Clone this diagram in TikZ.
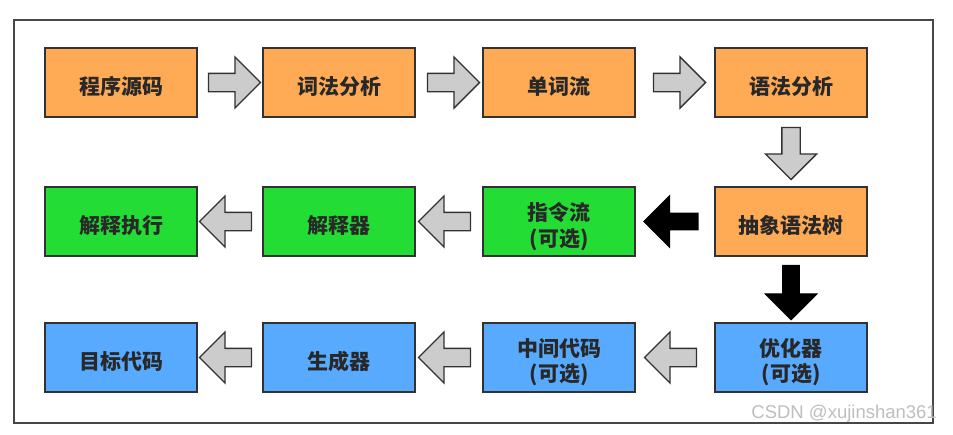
\documentclass[tikz,border=0pt]{standalone}
\usepackage{fontspec}
\newfontfamily\cjk{Noto Sans CJK SC}
\newfontfamily\wmfont{Liberation Sans}
\usetikzlibrary{shapes.arrows,calc}
\definecolor{orangebox}{RGB}{255,170,85}
\definecolor{greenbox}{RGB}{36,221,52}
\definecolor{bluebox}{RGB}{88,170,255}
\definecolor{boxline}{RGB}{50,50,50}
\definecolor{txt}{RGB}{40,40,40}
\definecolor{arrowfill}{RGB}{204,204,204}
\definecolor{framecol}{RGB}{70,70,70}
\definecolor{wmcol}{RGB}{190,190,190}
\newcommand\boxlabel[1]{\raisebox{-6.5pt}[\height][\depth]{\begin{tabular}{@{}c@{}}#1\end{tabular}}}
\begin{document}
\begin{tikzpicture}[x=1pt,y=-1pt,
  box/.style={draw=boxline,line width=1.5pt,minimum width=152pt,minimum height=69pt,
    inner sep=0pt,font=\cjk\bfseries\fontsize{21}{25}\selectfont,text=txt},
  obox/.style={box,fill=orangebox},
  gbox/.style={box,fill=greenbox},
  bbox/.style={box,fill=bluebox},
  flowarrow/.style={single arrow,draw=boxline,line width=1.3pt,fill=arrowfill,
    inner sep=8.5pt,single arrow head extend=16.5pt,minimum height=52pt},
  blackarrow/.style={flowarrow,fill=black,draw=black,inner sep=7.5pt,
    single arrow head extend=17.5pt,minimum height=54pt},
  toright/.style={shape border rotate=0},
  toleft/.style={shape border rotate=180},
  todown/.style={shape border rotate=270}]
\useasboundingbox (0,0) rectangle (953,434);
\fill[white] (0,0) rectangle (953,434);
\draw[framecol,line width=2pt] (14,20) rectangle (933,423);

% row 1
\node[obox] (src) at (121,82.5) {\boxlabel{程序源码}};
\node[obox] (lex) at (339,82.5) {\boxlabel{词法分析}};
\node[obox] (tok) at (559,82.5) {\boxlabel{单词流}};
\node[obox] (syn) at (791,82.5) {\boxlabel{语法分析}};
% row 2
\node[gbox] (exe) at (121,221.5) {\boxlabel{解释执行}};
\node[gbox] (interp) at (339,221.5) {\boxlabel{解释器}};
\node[gbox] (ins) at (559,221.5) {\boxlabel{指令流\\(可选)}};
\node[obox] (ast) at (791,221.5) {\boxlabel{抽象语法树}};
% row 3
\node[bbox] (tgt) at (121,357.5) {\boxlabel{目标代码}};
\node[bbox] (gen) at (339,357.5) {\boxlabel{生成器}};
\node[bbox] (mid) at (559,357.5) {\boxlabel{中间代码\\(可选)}};
\node[bbox] (opt) at (791,357.5) {\boxlabel{优化器\\(可选)}};

% arrows
\node[flowarrow,toright] (a1) at ($(src.east)!0.5!(lex.west)$) {};
\node[flowarrow,toright] (a2) at ($(lex.east)!0.5!(tok.west)$) {};
\node[flowarrow,toright] (a3) at ($(tok.east)!0.5!(syn.west)$) {};
\node[flowarrow,todown] (a4) at ($(syn.south)!0.5!(ast.north)+(0,-3)$) {};
\node[blackarrow,toleft] (a5) at ($(ast.west)!0.5!(ins.east)$) {};
\node[flowarrow,toleft] (a6) at ($(ins.west)!0.5!(interp.east)$) {};
\node[flowarrow,toleft] (a7) at ($(interp.west)!0.5!(exe.east)$) {};
\node[blackarrow,todown] (a8) at ($(ast.south)!0.5!(opt.north)+(0,-1)$) {};
\node[flowarrow,toleft] (a9) at ($(opt.west)!0.5!(mid.east)$) {};
\node[flowarrow,toleft] (a10) at ($(mid.west)!0.5!(gen.east)$) {};
\node[flowarrow,toleft] (a11) at ($(gen.west)!0.5!(tgt.east)$) {};

\node[anchor=east,text=wmcol,font=\wmfont\fontsize{18.5}{18.5}\selectfont,inner sep=0pt] (wm) at (937,414) {CSDN @xujinshan361};
\end{tikzpicture}
\end{document}
